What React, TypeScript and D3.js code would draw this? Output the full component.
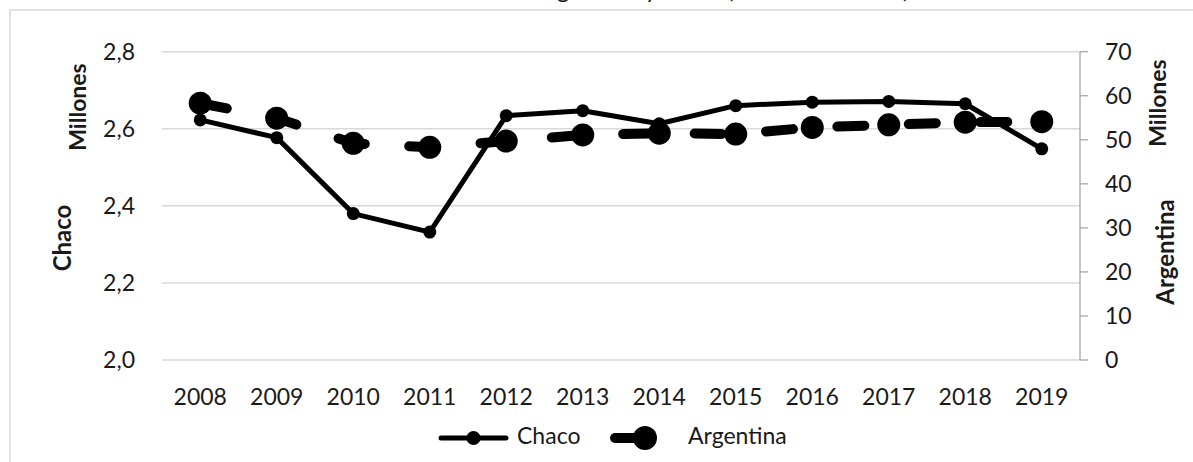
import React from "react";
import * as d3 from "d3";

const years = ["2008","2009","2010","2011","2012","2013","2014","2015","2016","2017","2018","2019"];
const chaco = [2.623, 2.577, 2.380, 2.332, 2.634, 2.647, 2.613, 2.660, 2.669, 2.671, 2.665, 2.548];
const argentina = [58.3, 54.9, 49.2, 48.3, 49.7, 51.1, 51.5, 51.3, 52.8, 53.4, 54.0, 54.1];
const leftTicks = [2.0, 2.2, 2.4, 2.6, 2.8];
const rightTicks = [0, 10, 20, 30, 40, 50, 60, 70];

const W = 1193, H = 462;
const FONT = "Lato, 'Open Sans', sans-serif";
const TXT = "#1a1a1a";

export default function App() {
  const x = d3.scaleBand<string>().domain(years).range([162, 1080]);
  const yL = d3.scaleLinear().domain([2.0, 2.8]).range([360, 51.7]);
  const yR = d3.scaleLinear().domain([0, 70]).range([360, 51.7]);
  const cx = (y: string) => (x(y) as number) + x.bandwidth() / 2;
  const fmtL = (v: number) => d3.format(".1f")(v).replace(".", ",");

  const lineC = d3.line<number>().x((_, i) => cx(years[i])).y((d) => yL(d))(chaco) as string;
  const lineA = d3.line<number>().x((_, i) => cx(years[i])).y((d) => yR(d))(argentina) as string;

  const dash = "27 44.5";

  return (
    <svg width={W} height={H} style={{ position: "absolute", left: 0, top: 0, background: "#fff" }} fontFamily={FONT}>
      <rect x={0} y={0} width={W} height={H} fill="#fff" />
      {/* title (mostly clipped above the frame, as in the reference) */}
      <text y={-2} fontSize={24} fill={TXT}>
        <tspan x={392}>Población de </tspan>
        <tspan x={532}>Argentina</tspan>
        <tspan x={645}>y</tspan>
        <tspan x={662}>Chaco</tspan>
        <tspan x={727}>(millones de hab.)</tspan>
      </text>
      {/* frame */}
      <rect x={10} y={10} width={1300} height={600} fill="none" stroke="#d9d9d9" strokeWidth={1.5} />

      {/* gridlines */}
      {leftTicks.map((t) => (
        <line key={"g" + t} x1={162} x2={1080} y1={yL(t)} y2={yL(t)} stroke="#d9d9d9" strokeWidth={1.5} />
      ))}
      {/* left tick labels */}
      {leftTicks.map((t) => (
        <text key={"l" + t} x={135} y={yL(t)} dy="0.36em" textAnchor="end" fontSize={23} fill={TXT}>
          {fmtL(t)}
        </text>
      ))}
      {/* right axis */}
      <line x1={1080} x2={1080} y1={yR(70)} y2={yR(0)} stroke="#a6a6a6" strokeWidth={1.3} />
      {rightTicks.map((t) => (
        <g key={"r" + t}>
          <line x1={1080} x2={1088} y1={yR(t)} y2={yR(t)} stroke="#a6a6a6" strokeWidth={1.3} />
          <text x={1105} y={yR(t)} dy="0.36em" fontSize={23} fill={TXT}>{t}</text>
        </g>
      ))}
      {/* x labels */}
      {years.map((yy) => (
        <text key={"x" + yy} x={cx(yy)} y={405} textAnchor="middle" fontSize={23} fill={TXT}>{yy}</text>
      ))}

      {/* axis titles */}
      <text transform="translate(78,107) rotate(-90)" textAnchor="middle" dy="0.35em" fontSize={23} fontWeight="bold" fill={TXT}>Millones</text>
      <text transform="translate(63,238) rotate(-90)" textAnchor="middle" dy="0.35em" fontSize={24} fontWeight="bold" fill={TXT}>Chaco</text>
      <text transform="translate(1158,103) rotate(-90)" textAnchor="middle" dy="0.35em" fontSize={23} fontWeight="bold" fill={TXT}>Millones</text>
      <text transform="translate(1166,252) rotate(-90)" textAnchor="middle" dy="0.35em" fontSize={24} fontWeight="bold" fill={TXT}>Argentina</text>

      {/* Argentina series */}
      <path d={lineA} fill="none" stroke="#000" strokeWidth={10} strokeDasharray={dash} strokeLinecap="round" strokeLinejoin="round" />
      {argentina.map((v, i) => (
        <circle key={"a" + i} cx={cx(years[i])} cy={yR(v)} r={11.5} fill="#000" />
      ))}
      {/* Chaco series */}
      <path d={lineC} fill="none" stroke="#000" strokeWidth={5} strokeLinecap="round" strokeLinejoin="round" />
      {chaco.map((v, i) => (
        <circle key={"c" + i} cx={cx(years[i])} cy={yL(v)} r={6.5} fill="#000" />
      ))}

      {/* legend */}
      <line x1={441} x2={506} y1={438} y2={438} stroke="#000" strokeWidth={5} strokeLinecap="round" />
      <circle cx={473.5} cy={438} r={7} fill="#000" />
      <text x={517} y={444} fontSize={23} fill={TXT}>Chaco</text>
      <line x1={615} x2={675} y1={438} y2={438} stroke="#000" strokeWidth={10} strokeDasharray={dash} strokeLinecap="round" />
      <circle cx={645} cy={438} r={12} fill="#000" />
      <text x={688} y={444} fontSize={23} fill={TXT}>Argentina</text>
    </svg>
  );
}
